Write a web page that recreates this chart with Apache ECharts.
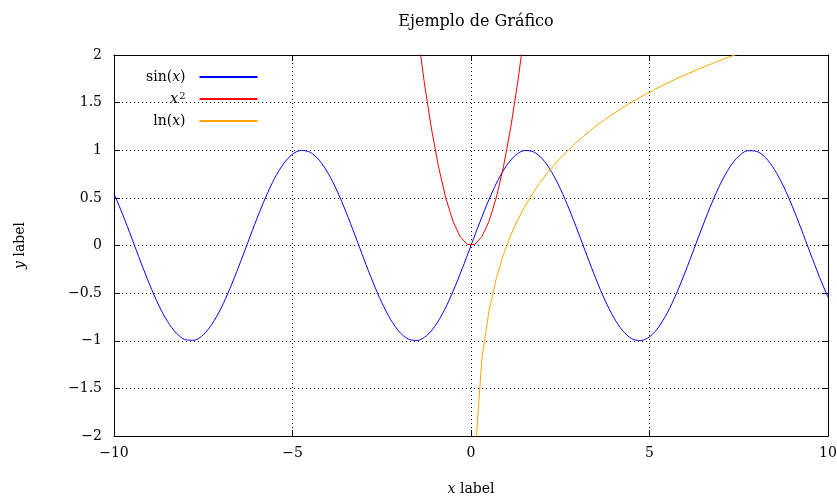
<!DOCTYPE html>
<html><head><meta charset="utf-8">
<script src="https://cdn.jsdelivr.net/npm/echarts@6/dist/echarts.min.js"></script>
<style>html,body{margin:0;padding:0;background:#fff}#c{width:837px;height:497px}</style>
</head><body><div id="c"></div>
<script>
const xTicks = [-10, -5, 0, 5, 10];
const yTicks = [-2, -1.5, -1, -0.5, 0, 0.5, 1, 1.5, 2];

const sinX = [-10,-9.75,-9.5,-9.25,-9,-8.75,-8.5,-8.25,-8,-7.75,-7.5,-7.25,-7,-6.75,-6.5,-6.25,-6,-5.75,-5.5,-5.25,-5,-4.75,-4.5,-4.25,-4,-3.75,-3.5,-3.25,-3,-2.75,-2.5,-2.25,-2,-1.75,-1.5,-1.25,-1,-0.75,-0.5,-0.25,
  0,0.25,0.5,0.75,1,1.25,1.5,1.75,2,2.25,2.5,2.75,3,3.25,3.5,3.75,4,4.25,4.5,4.75,5,5.25,5.5,5.75,6,6.25,6.5,6.75,7,7.25,7.5,7.75,8,8.25,8.5,8.75,9,9.25,9.5,9.75,10];
const sinY = [0.544,0.320,0.075,-0.174,-0.412,-0.625,-0.798,-0.922,-0.989,-0.995,-0.938,-0.823,-0.657,-0.450,-0.215,0.033,0.279,0.508,0.706,0.859,0.959,0.999,0.978,0.895,0.757,0.572,0.351,0.108,-0.141,-0.382,-0.598,-0.778,-0.909,-0.984,-0.997,-0.949,-0.841,-0.682,-0.479,-0.247,
  0,0.247,0.479,0.682,0.841,0.949,0.997,0.984,0.909,0.778,0.598,0.382,0.141,-0.108,-0.351,-0.572,-0.757,-0.895,-0.978,-0.999,-0.959,-0.859,-0.706,-0.508,-0.279,-0.033,0.215,0.450,0.657,0.823,0.938,0.995,0.989,0.922,0.798,0.625,0.412,0.174,-0.075,-0.320,-0.544];

const sqX = [-1.717,-1.515,-1.313,-1.111,-0.909,-0.707,-0.505,-0.303,-0.101,0.101,0.303,0.505,0.707,0.909,1.111,1.313,1.515,1.717];
const sqY = [2.948,2.295,1.724,1.234,0.826,0.500,0.255,0.092,0.010,0.010,0.092,0.255,0.500,0.826,1.234,1.724,2.295,2.948];

const lnX = [0.101,0.303,0.505,0.707,0.909,1.111,1.313,1.515,1.717,1.919,2.121,2.323,2.525,2.727,2.929,3.131,3.333,3.535,3.737,3.939,4.141,4.343,4.545,4.747,4.949,5.152,5.354,5.556,5.758,5.960,6.162,6.364,6.566,6.768,6.970,7.172,7.374,7.576,7.778];
const lnY = [-2.293,-1.194,-0.683,-0.347,-0.095,0.105,0.272,0.415,0.540,0.652,0.752,0.843,0.926,1.003,1.075,1.141,1.204,1.263,1.318,1.371,1.421,1.469,1.514,1.557,1.599,1.639,1.678,1.715,1.751,1.785,1.818,1.851,1.882,1.912,1.942,1.970,1.998,2.025,2.051];

const seriesNames = ['sin(x)', 'x^2', 'ln(x)'];
const seriesColors = ['#0000ff', '#ff0000', '#ffa500'];

function pairs(xs, ys) { return xs.map((x, i) => [x, ys[i]]); }
const FONT = 'DejaVu Serif';
const FS = 14;
const minus = v => String(v).replace('-', '\u2212');

const chart = echarts.init(document.getElementById('c'), null, {renderer: 'canvas'});
const axisBase = {
  axisLine: {show: true, onZero: false, lineStyle: {color: '#000', width: 1}},
  axisTick: {show: true, inside: true, length: 6, lineStyle: {color: '#000'}},
};
const rich = {
  n: {fontFamily: FONT, fontSize: FS, color: '#000'},
  i: {fontFamily: FONT, fontSize: FS, fontStyle: 'italic', color: '#000'},
  sup: {fontFamily: FONT, fontSize: 10, color: '#000', verticalAlign: 'top', padding: [0, 0, 9, 1]}
};
chart.setOption({
  animation: false,
  title: {
    text: 'Ejemplo de Gráfico', left: 471, top: 9, textAlign: 'center',
    textStyle: {fontFamily: FONT, fontSize: 16, fontWeight: 'normal', color: '#000'}
  },
  grid: {left: 114, right: 9, top: 55, bottom: 61, containLabel: false, outerBoundsMode: 'none'},
  legend: {
    orient: 'vertical', left: 141, top: 64, align: 'right', itemGap: 6,
    itemWidth: 58, itemHeight: 2, icon: 'rect',
    data: seriesNames,
    formatter: function (name) {
      if (name === 'sin(x)') return '{n|sin(}{i|x}{n|)}';
      if (name === 'x^2') return '{i|x}{sup|2}';
      return '{n|ln(}{i|x}{n|)}';
    },
    textStyle: {rich: rich, padding: [0, 9, 0, 0], lineHeight: 16}
  },
  xAxis: [
    Object.assign({}, axisBase, {
      type: 'value', min: -10, max: 10, interval: 5, position: 'bottom',
      axisLabel: {fontFamily: FONT, fontSize: FS, color: '#000', margin: 10, formatter: minus},
      splitLine: {show: true, lineStyle: {color: '#000', type: [1, 3], width: 1}},
      name: '{i|x}{n| label}', nameLocation: 'middle', nameGap: 46,
      nameTextStyle: {rich: rich}
    }),
    Object.assign({}, axisBase, {
      type: 'value', min: -10, max: 10, interval: 5, position: 'top',
      axisLabel: {show: false}, splitLine: {show: false}
    })
  ],
  yAxis: [
    Object.assign({}, axisBase, {
      type: 'value', min: -2, max: 2, interval: 0.5, position: 'left',
      axisLabel: {fontFamily: FONT, fontSize: FS, color: '#000', margin: 12, formatter: minus},
      splitLine: {show: true, lineStyle: {color: '#000', type: [1, 3], width: 1}},
      name: '{i|y}{n| label}', nameLocation: 'middle', nameGap: 87, nameRotate: 90,
      nameTextStyle: {rich: rich}
    }),
    Object.assign({}, axisBase, {
      type: 'value', min: -2, max: 2, interval: 0.5, position: 'right',
      axisLabel: {show: false}, splitLine: {show: false}
    })
  ],
  series: [
    {name: seriesNames[0], type: 'line', data: pairs(sinX, sinY), smooth: 0.3, showSymbol: false, color: seriesColors[0], lineStyle: {width: 1}, clip: true},
    {name: seriesNames[1], type: 'line', data: pairs(sqX, sqY), showSymbol: false, color: seriesColors[1], lineStyle: {width: 1}, clip: true},
    {name: seriesNames[2], type: 'line', data: pairs(lnX, lnY), showSymbol: false, color: seriesColors[2], lineStyle: {width: 1}, clip: true}
  ]
});
</script></body></html>
